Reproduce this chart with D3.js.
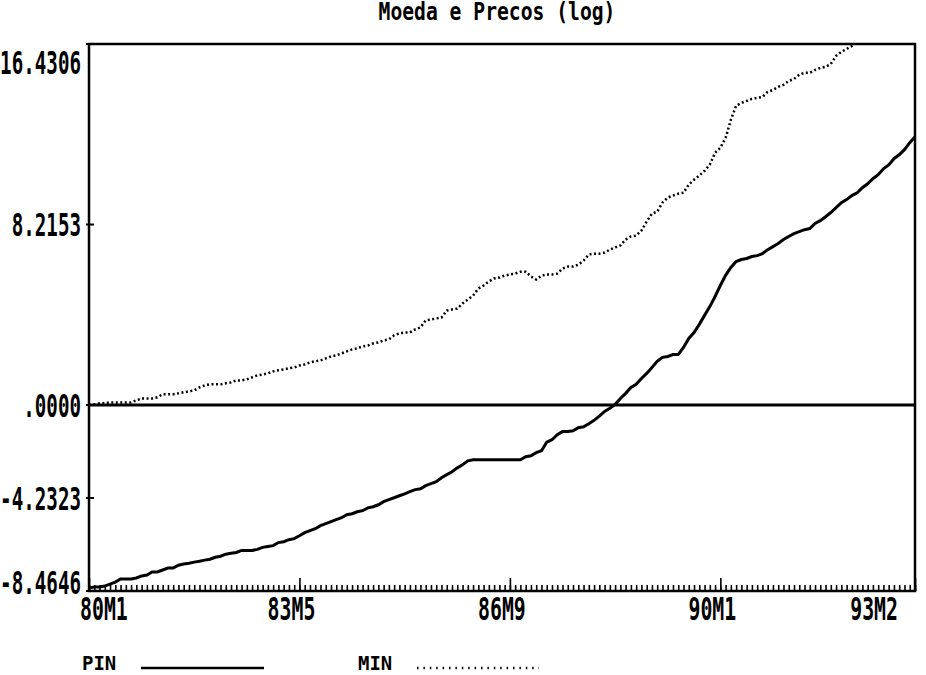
<!DOCTYPE html>
<html>
<head>
<meta charset="utf-8">
<script src="https://cdn.jsdelivr.net/npm/d3@7"></script>
<style>
body { margin: 0; background: #fff; }
</style>
</head>
<body>
<div id="chart"></div>
<script>
var title = "Moeda e Precos (log)";
var seriesNames = ["PIN", "MIN"];
var yTicks = [-8.4646, -4.2323, 0, 8.2153, 16.4306];
var yTickLabels = ["-8.4646", "-4.2323", ".0000", "8.2153", "16.4306"];
var xTickLabels = ["80M1", "83M5", "86M9", "90M1", "93M2"];
var startYear = 80;

// PIN, monthly from 80M1 to 93M2
var pin = [
  -8.33, -8.28, -8.28, -8.24, -8.15, -8.06, -7.92, -7.92, -7.92, -7.87,
  -7.78, -7.74, -7.60, -7.60, -7.51, -7.42, -7.42, -7.29, -7.24, -7.20,
  -7.15, -7.11, -7.06, -7.02, -6.93, -6.88, -6.79, -6.75, -6.71, -6.62,
  -6.62, -6.62, -6.57, -6.48, -6.44, -6.40, -6.26, -6.22, -6.13, -6.08,
  -5.95, -5.81, -5.72, -5.63, -5.49, -5.40, -5.31, -5.22, -5.13, -4.99,
  -4.95, -4.86, -4.81, -4.68, -4.63, -4.54, -4.40, -4.31, -4.22, -4.13,
  -4.04, -3.94, -3.85, -3.81, -3.67, -3.58, -3.49, -3.31, -3.17, -3.04,
  -2.86, -2.72, -2.54, -2.49, -2.49, -2.49, -2.49, -2.49, -2.49, -2.49,
  -2.49, -2.49, -2.49, -2.35, -2.31, -2.17, -2.08, -1.69, -1.58, -1.35,
  -1.21, -1.21, -1.17, -1.03, -0.99, -0.85, -0.70, -0.51, -0.29, -0.15,
  0.03, 0.30, 0.53, 0.80, 0.94, 1.21, 1.44, 1.71, 1.99, 2.17,
  2.21, 2.30, 2.30, 2.62, 3.03, 3.30, 3.67, 4.08, 4.48, 4.94,
  5.44, 5.90, 6.26, 6.53, 6.62, 6.67, 6.76, 6.80, 6.89, 7.07,
  7.21, 7.35, 7.53, 7.67, 7.80, 7.89, 7.98, 8.03, 8.26, 8.39,
  8.57, 8.76, 8.98, 9.21, 9.35, 9.53, 9.66, 9.89, 10.07, 10.30,
  10.48, 10.75, 10.93, 11.21, 11.39, 11.62, 11.94, 12.21
];

// MIN, same months (runs off the top after 92M)
var min = [
  0.00, 0.03, 0.08, 0.08, 0.12, 0.12, 0.12, 0.12, 0.12, 0.21,
  0.30, 0.30, 0.30, 0.35, 0.49, 0.49, 0.49, 0.53, 0.58, 0.62,
  0.67, 0.80, 0.90, 0.94, 0.94, 0.94, 0.99, 1.03, 1.12, 1.12,
  1.17, 1.26, 1.35, 1.39, 1.44, 1.53, 1.58, 1.62, 1.67, 1.71,
  1.80, 1.85, 1.94, 1.99, 2.03, 2.12, 2.21, 2.26, 2.35, 2.44,
  2.53, 2.58, 2.67, 2.71, 2.80, 2.85, 2.94, 2.99, 3.17, 3.26,
  3.30, 3.30, 3.44, 3.53, 3.85, 3.89, 3.94, 3.98, 4.30, 4.35,
  4.39, 4.62, 4.80, 4.98, 5.30, 5.44, 5.62, 5.76, 5.80, 5.89,
  5.94, 5.98, 6.07, 6.07, 5.85, 5.71, 5.89, 5.94, 5.94, 5.98,
  6.21, 6.30, 6.30, 6.39, 6.57, 6.85, 6.89, 6.89, 6.94, 7.07,
  7.17, 7.26, 7.53, 7.67, 7.71, 7.94, 8.35, 8.71, 8.80, 9.21,
  9.44, 9.53, 9.62, 9.66, 10.03, 10.25, 10.44, 10.66, 10.94, 11.48,
  11.71, 12.16, 12.98, 13.62, 13.75, 13.84, 13.93, 13.98, 14.02, 14.25,
  14.34, 14.48, 14.57, 14.75, 14.84, 15.03, 15.12, 15.12, 15.25, 15.34,
  15.39, 15.52, 15.89, 16.07, 16.21, 16.34, 16.52, 16.70, 16.89, 17.02,
  17.20, 17.34, 17.48, 17.66, 17.80, 17.98, 18.11, 18.30
];

var svgWidth = 926;
var svgHeight = 675;
var margin = { top: 44, right: 11, bottom: 84, left: 89 };
var chartWidth = svgWidth - margin.left - margin.right;
var chartHeight = svgHeight - margin.top - margin.bottom;

var plotTop = margin.top, plotBottom = margin.top + chartHeight;
var plotLeft = margin.left, plotRight = margin.left + chartWidth;

var months = pin.map(function (d, i) {
    return (startYear + Math.floor(i / 12)) + "M" + (i % 12 + 1);
});

var svg = d3.select("#chart")
    .append("svg")
        .attr("width", svgWidth)
        .attr("height", svgHeight)
        .style("background", "#fff");

var xScale = d3.scalePoint()
    .domain(months)
    .range([plotLeft, plotRight]);

var yScale = d3.scaleLinear()
    .domain([yTicks[0], yTicks[yTicks.length - 1]])
    .range([plotBottom, plotTop]);

// condensed bitmap-like lettering
function addText(str, x, y, anchor, size, sx) {
    return svg.append("text")
        .attr("transform", `translate(${x},${y}) scale(${sx},1)`)
        .attr("text-anchor", anchor)
        .attr("font-family", "DejaVu Sans Mono")
        .attr("font-weight", "bold")
        .attr("font-size", size)
        .attr("fill", "#000")
        .text(str);
}

// title
addText(title, 497, 20, "middle", 24, 0.82);

// clip
svg.append("clipPath").attr("id", "plot")
    .append("rect")
        .attr("x", plotLeft).attr("y", plotTop)
        .attr("width", chartWidth).attr("height", chartHeight);

// minor ticks, one per month
svg.append("g")
    .attr("transform", `translate(0, ${plotBottom})`)
    .call(d3.axisBottom(xScale).tickValues(months).tickSize(-6).tickFormat(""))
    .call(function (g) {
        g.select(".domain").remove();
        g.selectAll("line").attr("stroke-width", 1.6);
    });

// major ticks
svg.append("g")
    .attr("transform", `translate(0, ${plotBottom})`)
    .call(d3.axisBottom(xScale).tickValues(xTickLabels).tickSize(-13).tickFormat(""))
    .call(function (g) {
        g.select(".domain").remove();
        g.selectAll("line").attr("stroke-width", 1.6);
    });

// x labels, kept inside the frame
var xSize = 32, xSx = 0.62;
xTickLabels.forEach(function (lab) {
    var w = lab.length * 0.602 * xSize * xSx;
    var cx = xScale(lab) - 8;
    cx = Math.max(80 + w / 2, Math.min(898 - w / 2, cx));
    addText(lab, cx, 620, "middle", xSize, xSx);
});

// y ticks and labels
yTicks.forEach(function (v, i) {
    var y = yScale(v);
    svg.append("line")
        .attr("x1", plotLeft - 3).attr("x2", plotLeft + 5)
        .attr("y1", y).attr("y2", y)
        .attr("stroke", "#000").attr("stroke-width", 2);
    var ly = Math.max(plotTop + 18, Math.min(plotBottom - 9, y));
    addText(yTickLabels[i], 81, ly + 11.5, "end", 32, 0.6);
});

// zero line
svg.append("line")
    .attr("x1", plotLeft).attr("x2", plotRight)
    .attr("y1", yScale(0)).attr("y2", yScale(0))
    .attr("stroke", "#000").attr("stroke-width", 3);

var line = d3.line()
    .x(function (d, i) { return xScale(months[i]); })
    .y(function (d) { return yScale(d); });

var plot = svg.append("g").attr("clip-path", "url(#plot)");

plot.append("path")
    .datum(min)
    .attr("d", line)
    .attr("fill", "none")
    .attr("stroke", "#000")
    .attr("stroke-width", 2.5)
    .attr("stroke-dasharray", "2,2.5");

plot.append("path")
    .datum(pin)
    .attr("d", line)
    .attr("fill", "none")
    .attr("stroke", "#000")
    .attr("stroke-width", 3);

// frame
svg.append("rect")
    .attr("x", plotLeft).attr("y", plotTop)
    .attr("width", chartWidth).attr("height", chartHeight)
    .attr("fill", "none")
    .attr("stroke", "#000")
    .attr("stroke-width", 2.5);

// legend
var legX = [82, 358];
var legLine = [[141, 264], [417, 539]];
seriesNames.forEach(function (name, i) {
    addText(name, legX[i], 670, "start", 20, 0.95);
    svg.append("line")
        .attr("x1", legLine[i][0]).attr("x2", legLine[i][1])
        .attr("y1", 668).attr("y2", 668)
        .attr("stroke", "#000")
        .attr("stroke-width", 2.5)
        .attr("stroke-dasharray", i === 0 ? null : "1.5,4.9");
});
</script>
</body>
</html>
